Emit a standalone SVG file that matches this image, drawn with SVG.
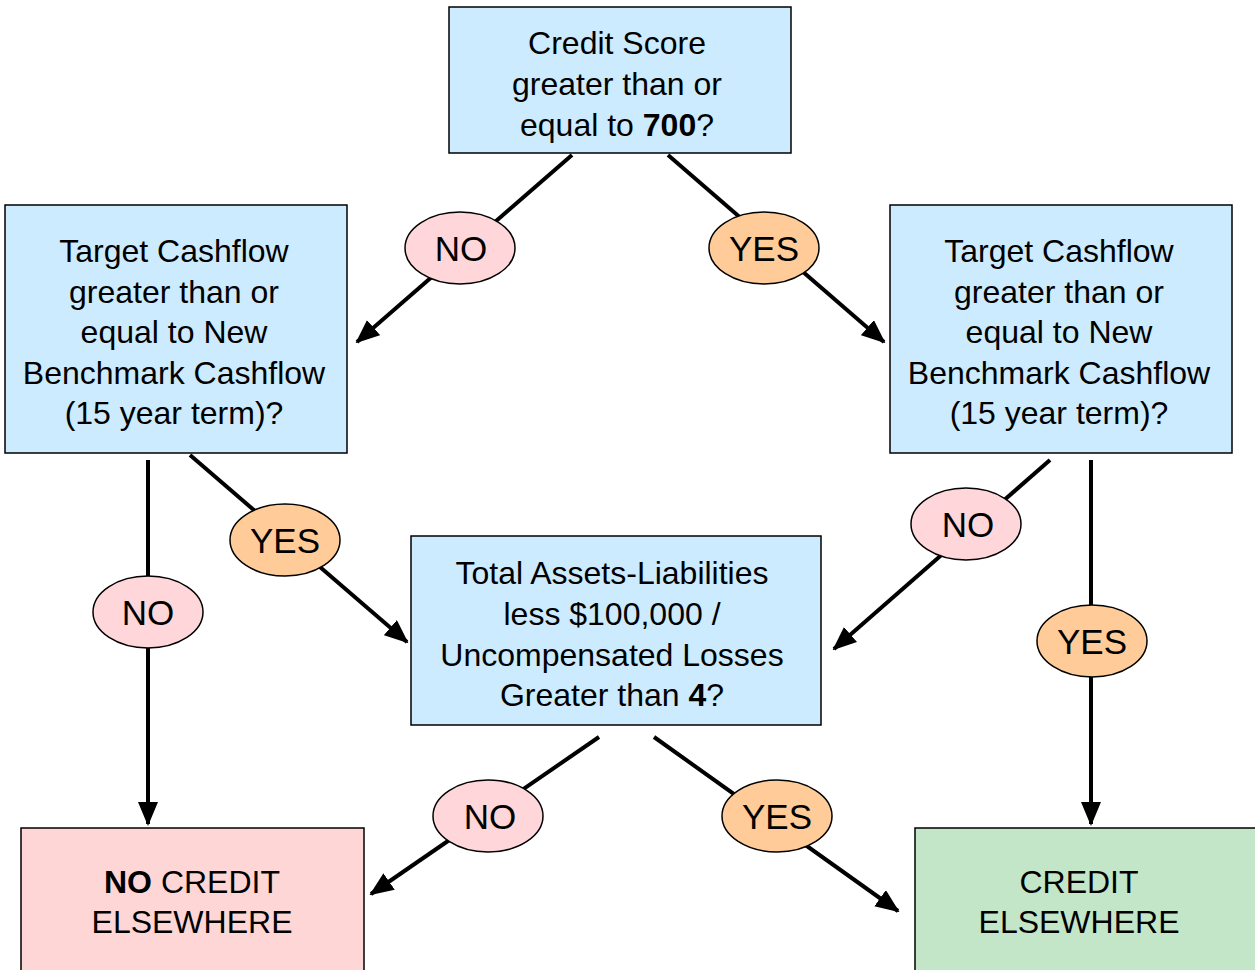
<svg xmlns="http://www.w3.org/2000/svg" width="1255" height="970" viewBox="0 0 1255 970">
<style>
text{font-family:"Liberation Sans",Arial,sans-serif;font-size:32px;fill:#000;text-anchor:middle}
.lbl{font-size:35px}
.q{fill:#CCEBFF;stroke:#000;stroke-width:1.5}
.no{fill:#FFD6D9;stroke:#000;stroke-width:1.5}
.yes{fill:#FFCC99;stroke:#000;stroke-width:1.5}
.c{stroke:#000;stroke-width:4;fill:none;marker-end:url(#ah)}
.b{font-weight:bold}
</style>
<defs>
<marker id="ah" markerWidth="6" markerHeight="5" refX="5.5" refY="2.5" orient="auto" markerUnits="strokeWidth" viewBox="0 0 6 5">
<path d="M0,0 L6,2.5 L0,5 Z" fill="#000"/>
</marker>
</defs>
<rect width="1255" height="970" fill="#fff"/>
<g id="connectors">
<line class="c" x1="572" y1="155" x2="357" y2="342"/>
<line class="c" x1="668" y1="155" x2="884" y2="342"/>
<line class="c" x1="148" y1="460" x2="148" y2="824"/>
<line class="c" x1="190" y1="455" x2="407" y2="642"/>
<line class="c" x1="1050" y1="460" x2="834" y2="649"/>
<line class="c" x1="1091" y1="460" x2="1091" y2="824"/>
<line class="c" x1="599" y1="737" x2="371" y2="894"/>
<line class="c" x1="654" y1="737" x2="898" y2="911"/>
</g>
<g id="n-credit-score">
<rect class="q" x="449" y="7" width="342" height="146"/>
<text x="617" y="54">Credit Score</text>
<text x="617" y="95">greater than or</text>
<text x="617" y="136">equal to <tspan class="b">700</tspan>?</text>
</g>
<g id="n-left-cashflow">
<rect class="q" x="5" y="205" width="342" height="248"/>
<text x="174" y="262">Target Cashflow</text>
<text x="174" y="303">greater than or</text>
<text x="174" y="343">equal to New</text>
<text x="174" y="384">Benchmark Cashflow</text>
<text x="174" y="424">(15 year term)?</text>
</g>
<g id="n-right-cashflow">
<rect class="q" x="890" y="205" width="342" height="248"/>
<text x="1059" y="262">Target Cashflow</text>
<text x="1059" y="303">greater than or</text>
<text x="1059" y="343">equal to New</text>
<text x="1059" y="384">Benchmark Cashflow</text>
<text x="1059" y="424">(15 year term)?</text>
</g>
<g id="n-assets">
<rect class="q" x="411" y="536" width="410" height="189"/>
<text x="612" y="584">Total Assets-Liabilities</text>
<text x="612" y="625">less $100,000 /</text>
<text x="612" y="666">Uncompensated Losses</text>
<text x="612" y="706">Greater than <tspan class="b">4</tspan>?</text>
</g>
<g id="n-no-credit">
<rect x="21" y="828" width="343" height="160" fill="#FFD6D6" stroke="#000" stroke-width="1.5"/>
<text x="192" y="893"><tspan class="b">NO</tspan> CREDIT</text>
<text x="192" y="933">ELSEWHERE</text>
</g>
<g id="n-credit">
<rect x="915" y="828" width="360" height="160" fill="#C4E6C8" stroke="#000" stroke-width="1.5"/>
<text x="1079" y="893">CREDIT</text>
<text x="1079" y="933">ELSEWHERE</text>
</g>
<g id="l-no-1"><ellipse class="no" cx="460" cy="248" rx="55" ry="36"/><text class="lbl" x="461" y="261">NO</text></g>
<g id="l-yes-1"><ellipse class="yes" cx="764" cy="248" rx="55" ry="36"/><text class="lbl" x="764" y="261">YES</text></g>
<g id="l-no-2"><ellipse class="no" cx="148" cy="612" rx="55" ry="36"/><text class="lbl" x="148" y="625">NO</text></g>
<g id="l-yes-2"><ellipse class="yes" cx="285" cy="540" rx="55" ry="36"/><text class="lbl" x="285" y="553">YES</text></g>
<g id="l-no-3"><ellipse class="no" cx="966" cy="524" rx="55" ry="36"/><text class="lbl" x="968" y="537">NO</text></g>
<g id="l-yes-3"><ellipse class="yes" cx="1092" cy="641" rx="55" ry="36"/><text class="lbl" x="1092" y="654">YES</text></g>
<g id="l-no-4"><ellipse class="no" cx="488" cy="816" rx="55" ry="36"/><text class="lbl" x="490" y="829">NO</text></g>
<g id="l-yes-4"><ellipse class="yes" cx="777" cy="816" rx="55" ry="36"/><text class="lbl" x="777" y="829">YES</text></g>
</svg>
